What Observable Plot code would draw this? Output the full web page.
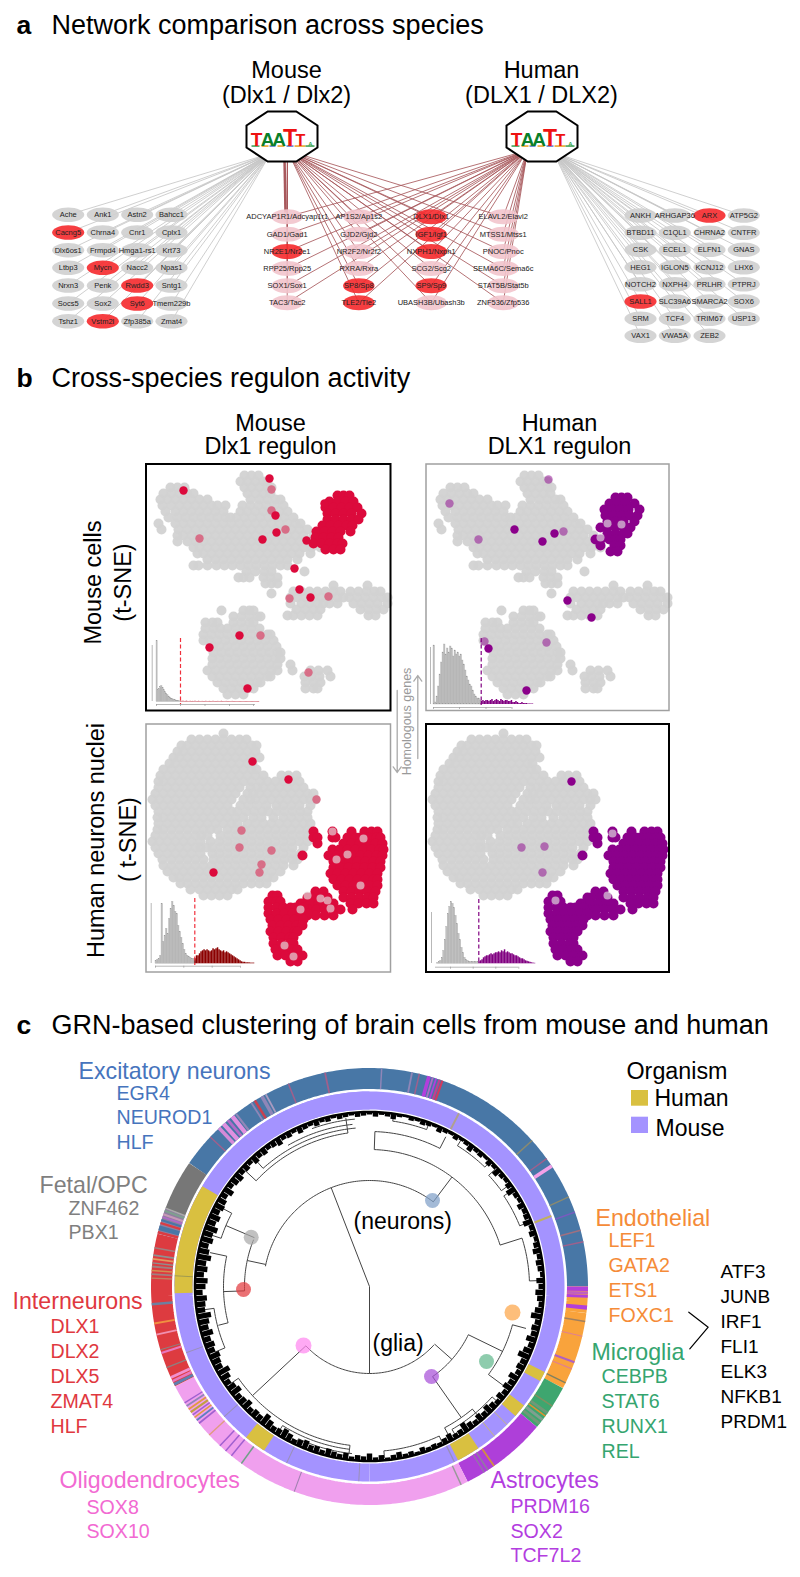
<!DOCTYPE html>
<html><head><meta charset="utf-8">
<style>html,body{margin:0;padding:0;background:#fff}svg{display:block}</style>
<script src="https://cdn.jsdelivr.net/npm/d3@7"></script>
<script src="https://cdn.jsdelivr.net/npm/@observablehq/plot@0.6"></script>
</head><body><div id="chart"></div>
<script>
const FONT="Liberation Sans";
const leftGenes=[["Ache","Cacng5","Dlx6os1","Ltbp3","Nrxn3","Socs5","Tshz1"],["Ank1","Chrna4","Frmpd4","Mycn","Penk","Sox2","Vstm2l"],["Astn2","Cnr1","Hmga1-rs1","Nacc2","Rwdd3","Syt6","Zfp385a"],["Bahcc1","Cplx1","Krt73","Npas1","Sntg1","Tmem229b","Zmat4"]];
const leftX=[67.7,102.3,136.7,171];
const leftY=[214.3,232,249.7,267.3,285,303,320.7];
const sharedGenes=[["ADCYAP1R1/Adcyap1r1","GAD1/Gad1","NR2E1/Nr2e1","RPP25/Rpp25","SOX1/Sox1","TAC3/Tac2"],["AP1S2/Ap1s2","GJD2/Gjd2","NR2F2/Nr2f2","RXRA/Rxra","SP8/Sp8","TLE2/Tle2"],["DLX1/Dlx1","IGF1/Igf1","NXPH1/Nxph1","SCG2/Scg2","SP9/Sp9","UBASH3B/Ubash3b"],["ELAVL2/Elavl2","MTSS1/Mtss1","PNOC/Pnoc","SEMA6C/Sema6c","STAT5B/Stat5b","ZNF536/Zfp536"]];
const sharedX=[286.7,358.3,430.7,502.7];
const sharedY=[216.3,233.7,251,268,285.3,302.3];
const rightGenes=[["ANKH","BTBD11","CSK","HEG1","NOTCH2","SALL1","SRM","VAX1"],["ARHGAP36","C1QL1","ECEL1","IGLON5","NXPH4","SLC39A6","TCF4","VWA5A"],["ARX","CHRNA2","ELFN1","KCNJ12","PRLHR","SMARCA2","TRIM67","ZEB2"],["ATP5G2","CNTFR","GNAS","LHX6","PTPRJ","SOX6","USP13"]];
const rightX=[640,674.3,709,743.3];
const rightY=[215,232.3,249.3,266.7,283.7,301,318.3,335.3];
const redGenes=["Cacng5","Mycn","Rwdd3","Syt6","Vstm2l","NR2E1/Nr2e1","SP8/Sp8","TLE2/Tle2","DLX1/Dlx1","IGF1/Igf1","NXPH1/Nxph1","SP9/Sp9","ARX","SALL1"];
const hubs=[{x:281.5,y:136},{x:541.5,y:136}];
const edgeOrigins={mouseGrey:[270,153],mouseRed:[287,150],humanRed:[527,150],humanGrey:[553,152]};
const logoLetters=[[-25.5,"T","#ee1111",19],[-14.5,"A","#0a7f2a",19],[-3,"A","#0a7f2a",19],[8,"T","#ee1111",23],[18.5,"T","#ee1111",16],[28.5,"A","#2f9f4a",6]];
const logoBits=[[-30,-22,"#3a9f50"],[-20,-13,"#e8a020"],[-12,-6,"#5577cc"],[-4,3,"#e8a020"],[5,12,"#5577cc"],[13,24,"#e8a020"],[24,33,"#3a9f50"]];
</script>
<script>
const mouseCells=[[11,98,105,112],[17,94,101,109,117,121],[23,24,31,38,98,105,113,121,125],[29,17,25,33,41,47,101,109,117,124],[35,14,21,29,37,45,53,61,104,113,121,129,134],[41,16,25,33,41,49,57,65,71,79,96,104,112,120,128,137],[47,19,29,37,45,53,61,69,77,94,101,109,117,125,133,141],[53,22,31,39,47,55,63,71,79,84,90,98,106,114,122,130,138,147],[59,12,29,37,45,53,61,69,77,85,93,101,109,117,125,133,141,149,154],[65,15,32,41,49,57,65,73,81,89,97,105,113,121,129,137,145,153,161],[71,31,37,45,53,61,69,77,85,93,101,109,117,125,133,141,149,157,167],[77,31,41,49,57,65,73,81,89,97,105,113,121,129,137,145,153,161,169,174],[83,47,53,61,69,77,85,93,101,109,117,125,133,141,149,157,165,174],[89,51,57,65,73,81,89,97,105,113,121,129,137,145,153,164],[95,61,69,77,85,93,101,109,117,125,133,141,151],[101,47,52,61,70,78,86,94,102,110,118,126,134,141],[107,100,109,118,125,158],[113,92,97,103,117,124,131],[119,119,125,131],[129,125],[121,187,221],[127,147,155,163,171,179,187,194,204,212,220,228,234],[133,144,151,159,167,175,183,191,197,203,211,219,227,235,241],[139,144,155,163,171,177,183,191,207,215,223,231,241],[145,150,159,167,174,214,222,230,237],[151,141,147,155,163,171,222,229],[146,75,97,103,107],[152,87,95,103,111,114],[158,59,66,71,87,95,103,107],[164,59,67,74,81,89,97,105,113],[170,57,65,73,81,89,97,105,113,121,124],[176,57,63,71,79,87,95,103,111,119,127],[182,67,73,81,89,97,105,113,121,130],[188,67,75,83,91,99,107,115,123,131,134],[194,66,73,81,89,97,105,113,121,129,134],[200,66,75,83,91,99,107,115,123,131,144],[206,61,69,77,85,93,101,109,117,125,131,146,164,172,181],[212,66,73,81,89,97,105,113,121,124,158,165,173,184],[218,71,79,87,95,103,111,114,159,167,174],[224,77,85,93,101,107,159,167,171],[230,81,89,97]];
const mouseClusterDlx=[[31,191,197,203],[37,183,191,199,207],[43,179,187,195,203,211],[49,181,189,197,205,215],[55,181,189,197,205,212],[61,176,184,192,200,206],[67,170,178,186,194,204],[73,169,177,185,192],[79,167,175,183,191,196],[85,179,187,194]];
const mouseClusterHuman=[[33,189,195,201],[39,183,191,199,208],[45,178,186,194,202,213],[51,179,187,195,203,211],[57,181,189,197,208],[63,174,181,189,197,204],[69,181,189,197,201],[75,169,174,183,189,194],[81,174,188,194],[87,184,191]];
const mouseHitsDlx=[[123,14],[37,26],[129,51],[130,68],[116,75],[160,76],[178,39],[148,104],[153,125],[164,133],[93,171],[63,183],[101,224]];
const mouseFaintDlx=[[125,25],[125,46],[139,65],[53,74],[143,134],[182,132],[114,171],[162,208]];
const mouseHitsHuman=[[88,65],[116,77],[128,69],[141,136],[165,153],[62,184],[100,226]];
const mouseFaintHuman=[[122,15],[23,39],[52,75],[137,67],[58,177],[120,178]];
const mouseGreyInHuman=[[195,60],[181,59],[174,73]];
const humanNuclei=[[9,77],[15,45,53,61,69,77,85,93,100],[21,35,41,49,57,65,73,81,89,97,105,110],[27,31,37,45,53,61,69,77,85,93,101,109],[33,27,33,41,49,57,65,73,81,89,97,105,113],[39,23,29,37,45,53,61,69,77,85,93,101,106],[45,17,25,33,41,49,57,65,73,81,89,97,105,110],[51,14,21,29,37,45,53,61,69,77,85,93,101,109,117,135,142,150],[57,12,17,25,33,41,49,57,65,73,81,89,97,105,114,121,129,137,145,153],[63,12,21,29,37,45,53,61,69,77,85,93,104,111,117,125,133,141,149,157],[69,9,17,25,33,41,49,57,65,73,81,89,101,107,113,121,129,137,145,153,161,167],[75,6,13,21,29,37,45,53,61,69,77,85,97,104,109,117,125,133,141,149,157,164,169],[81,9,17,25,33,41,49,57,65,73,81,94,102,111,120,130,137,145,153,164],[87,12,21,29,37,45,53,61,69,77,85,91,100,108,116,122,130,138,146,154,161],[93,11,17,25,33,41,49,57,65,73,81,89,97,107,115,127,137,145,153,161],[99,12,21,29,37,45,53,61,69,77,85,91,101,109,117,125,133,141,149,157,164],[105,11,17,25,33,41,49,57,64,71,81,89,97,105,113,121,129,137,145,153,161],[111,9,17,25,33,41,49,55,61,74,82,90,98,106,114,122,130,138,146,154,161,167],[117,6,13,21,29,37,45,54,64,73,81,89,97,105,113,121,129,137,145,153,161],[123,9,17,25,33,41,49,54,60,66,74,82,90,98,106,114,122,130,138,146,157],[129,12,21,29,37,45,54,66,73,81,89,97,105,113,121,129,137,145,154],[135,16,25,33,41,49,57,67,74,82,90,98,106,114,122,130,138,146,151],[141,17,25,33,41,49,57,65,73,81,89,97,105,113,121,129,137,147],[147,21,29,37,45,53,61,69,77,85,93,101,109,117,125,134],[153,27,33,41,49,57,65,73,81,89,97,105,113,121,127],[159,34,41,49,57,65,73,81,89,97,105,113,120],[165,44,53,61,69,77,85,91],[171,57,65,73,81]];
const humanCluster=[[107,167,186,205,218,225,231],[113,167,171,186,189,201,209,214,222,230,234],[119,171,197,205,213,221,229,236],[125,186,193,201,209,217,225,233,237],[131,156,182,190,198,206,214,222,230,236],[137,187,195,203,211,219,227,234],[143,187,194,202,210,218,226,234],[149,184,191,199,207,215,223,231],[155,187,195,203,211,219,227,231],[161,191,199,207,215,223,231],[167,169,177,197,205,213,221,229],[173,161,165,174,181,197,205,213,221,227],[179,154,157,164,172,180,187,204,212,220,227],[185,206,154,162,170,178,186,194],[191,161,169,178,187],[171,126,131],[177,122,130,134],[183,122,130,137,144,149,157],[189,122,130,138,146,154,161],[195,124,132,140,148,157],[201,126,134,142,150,156],[207,124,132,140,148,151],[213,127,135,143,147],[219,127,135,143,147],[225,129,137,145,151],[231,131,139,147,156],[237,144,151]];
const humanHitsDlx=[[106,37],[142,55],[67,148]];
const humanFaintDlx=[[95,106],[93,123],[125,126],[115,140],[113,148],[170,75]];
const humanPaleInDlx=[[217,114],[201,130],[190,135],[214,161],[174,174],[181,176],[154,185],[184,184],[161,171],[138,221],[147,232],[186,107]];
const humanHitsHuman=[[145,57]];
const humanFaintHuman=[[95,123],[116,148],[118,122]];
const humanPaleInHuman=[[181,171],[129,176],[186,109]];
const frames=[{x:146,y:464,w:244.5,h:246.5,key:true},{x:426,y:464,w:243,h:246.5,key:false},{x:146,y:724,w:244.5,h:248,key:false},{x:426,y:724,w:243,h:248,key:true}];
</script>
<script>
const hists=[
 {x0:156,w:1.2,base:701.5,grey:[61,12,13,15,16,14,12,10,8.5,7,5.5,4.5,3.5,3,2.5,2,1.5,1,1,.7],on:[.8,.6,.8,.5,.6,.8,.5,.5,.7,.5,.6,.5,.8,.5,.5,.7,.5,.5,.6,.5,.5,.7,.5,.5,.6,.5,.5,.7,.5,.5,.5,.6,.5,.5,.7,.5,.5,.5,.6,.5,.5,.5,.5,.6,.5,.5,.5,.5,.5,.5,.5,.5,.5,.5,.5,.5,.5,.5,.5,.5,.5,.5,.5,.5,.5,.5],onColor:"#c03040",cut:[180,638,704],cutColor:"#f0303c",axisX:[156,255,704],ticksX:[156,180,204.5,229,253],axisY:[151.7,645,701]},
 {x0:433,w:1.5,base:704,grey:[59,2,8,18,30,42,52,60,50,56,52,58,56,48,54,50,52,48,50,44,40,34,28,24,20,18,14,10,8,6,6,4],on:[3,4,3,4,4,3,4,5,3,4,5,4,3,5,4,3,4,4,3,3,4,2,2,3,2,1,1,2,1,1,1,.5,.5,.5,.5],onColor:"#800080",cut:[480.7,638,705],cutColor:"#800080",axisX:[433,511.5,707],ticksX:[433,459,485.5,511.5],axisY:[430,647,704]},
 {x0:155,w:1.5,base:963.3,grey:[3,4,5,8,60,22,28,35,30,45,55,62,58,52,50,38,32,26,20,14,10,8,7,6,5,5,5],on:[5,8,8,10,12,13,14,13,14,13,12,13,15,14,15,16,14,13,12,13,11,12,11,10,9,8,7,6,5,4,3,2,1.5,1.5,1,1,1,.7,.7,.7],onColor:"#8b0000",cut:[194.3,898,965],cutColor:"#f0303c",axisX:[155,240,965.7],ticksX:[155,183.3,211.7,240],axisY:[150.7,903,963]},
 {x0:436.7,w:1.5,base:963.3,grey:[1,2,3,6,13,24,37,50,57,62,60,56,48,40,30,24,16,11,6,4,3,2,2,2,2,2,2,2],on:[2,3,4,6,7,8,8,9,10,9,10,11,11,12,11,13,12,14,11,12,11,10,10,9,8,8,7,6,5,5,4,3,2.5,2,1.5,1,.7,.5],onColor:"#800080",cut:[478.3,899,963],cutColor:"#800080",axisX:[435,518.3,966.7],ticksX:[450,472.7,495.3,518.3],axisY:[431,912,963]}
];
const homologyArrows=[{x1:396.7,y1:690,x2:396.7,y2:772},{x1:417.3,y1:758,x2:417.3,y2:675}];
</script>
<script>
const ringCentre={x:369,y:1286};
const outerBase=[[-55.6,90,"#4877a6"],[90,97,"#f9a33c"],[97,117.7,"#f9a33c"],[117.7,130,"#3ea66f"],[130,153.3,"#ae3fd9"],[153.3,242.8,"#f0a0ee"],[242.8,284,"#dd3b40"],[284,291,"#8f7f9f"],[291,304.4,"#777777"]];
const outerStripes=[[348,.5,"#a0608c"],[3,.4,"#8f86b8"],[11,.5,"#8f86b8"],[13,.4,"#a0608c"],[15.3,1,"#b23fdc"],[16.6,.5,"#b06ac8"],[17.5,.5,"#b23fdc"],[18.4,.6,"#c04090"],[19.2,.6,"#d03a60"],[338,.4,"#a0608c"],[330,1,"#8f86b8"],[331.4,.5,"#a89ac0"],[328,.7,"#c84050"],[327,.5,"#8f86b8"],[316,1,"#d58ad8"],[317.5,1.2,"#e090e0"],[319.2,.8,"#b06ac8"],[320.5,1.2,"#e090e0"],[322,.6,"#8f86b8"],[313,.4,"#a0608c"],[47.9,.4,"#8a8a70"],[54,.4,"#a0608c"],[56,1,"#f4a0e8"],[65.6,.4,"#8a8a70"],[69.9,.4,"#7a5ac0"],[74.9,.4,"#a07080"],[78,.4,"#a0608c"],
[90,1.2,"#b23fdc"],[91.3,.8,"#c060c0"],[92.2,.8,"#b23fdc"],[95,1.1,"#b23fdc"],[99,.4,"#a08060"],[103,.3,"#e08090"],[110,.6,"#b060c0"],[112,.3,"#e08090"],[116,.4,"#808060"],
[123,.4,"#809060"],[125,.8,"#709878"],[126.2,.4,"#e09030"],[127.2,.8,"#7f9f8f"],[128.5,.8,"#709878"],[145,.5,"#d09040"],[147,.4,"#8f7f9f"],[148.2,.3,"#8f7f9f"],[155,.4,"#999999"],[200,.3,"#a080b0"],[215.7,.4,"#70a088"],[219,.4,"#a060d0"],[221,.4,"#a060d0"],[223,.4,"#a060d0"],[227,.4,"#e09a80"],
[231,.5,"#a060d0"],[232,.5,"#5f7fc0"],[233,.4,"#e09a40"],[233.8,.4,"#a060d0"],[234.6,.6,"#c0a040"],[235.6,.5,"#e09a40"],[236.6,.5,"#8f86b8"],[237.6,.4,"#a060d0"],
[243,.8,"#5f7fb0"],[244,.7,"#e878c0"],[245,.8,"#f090d0"],[248,.4,"#8f7f7f"],[252,.6,"#e878c0"],[253,.3,"#8f7f7f"],[257,.5,"#f090b0"],[260,.5,"#f09040"],[265,.7,"#6f7f9f"],[272,.4,"#c08060"],[273,.5,"#a08080"],[274,.4,"#d09050"],[275,.5,"#a08080"],[276,.4,"#8f8f8f"],[277,.5,"#e09a60"],[278,.5,"#909090"],[280,.4,"#a08080"],
[284,.7,"#dd3b40"],[285,1.2,"#4877a6"],[286.6,.6,"#dd3b40"],[287.4,.6,"#4877a6"],[288.3,.5,"#b06ac8"],[289,.6,"#c898b8"],[290,.6,"#7f9f8f"],[290.8,.4,"#aaaaaa"]];
const innerBase=[[-90,180,"#a493ff"],[180,360,"#a493ff"]];
const innerHuman=[[268,301],[212.7,219.3],[146,153],[127.6,131.6],[116,119]];
const innerThin=[[27,.6,"#b0a090"],[68.5,.6,"#c0b060"],[183,.3,"#9a90b8"],[205,.3,"#9a90b8"],[154,.4,"#9a90b8"],[135,.3,"#c0b090"],[140,.3,"#c0b090"],[273,.3,"#a09a50"],[250,.3,"#9a90b8"],[228,.3,"#9a90b8"]];
const treeArcs=[[87,132,227],[106,-79,37],[125,268,292],[137,2,72.4],[156,288,298],[146,255.6,282],[157,247,262],[160,187,235],[110,116,145],[148,105,126.5],[155,-47,-8],[159,-42,-5],[163,-30,-6],[155,2,27],[163,47,54],[162,56,68],[160,72.4,88],[164,187,212],[168,186,205],[165,155,175],[160,140,152],[165,132,150],[168,-20,-5],[167,8,20],[166,32,44]];
const treeSpokes=[[180,0,87],[-21.2,0,106],[282,106,125],[37,106,137],[2,137,155],[27,155,168],[72.4,137,160],[293,125,156],[288,156,170],[298,156,170],[268,125,146],[282,146,163],[255.6,146,156],[247,157,168],[262,157,168],[227,87,160],[187,160,168],[235,160,170],[131.5,87,110],[145,110,160],[116,110,148],[105,148,162],[126.5,148,166],[-47,155,170],[-8,155,170],[-42,159,172],[47,163,172],[54,163,172],[56,162,172],[68,162,172],[88,160,170],[212,164,172],[205,168,173],[155,165,172],[175,165,172],[140,160,170],[152,160,172],[132,165,172],[150,165,172],[8,167,173],[20,167,173],[32,166,173],[44,166,173]];
const tipDepth=[3,5,3,4,6,3,2,4,3,5,4,3,6,4,3,5,3,4,7,4,
5,3,6,4,8,5,4,6,9,5,4,7,5,6,9,5,7,4,6,8,5,7,6,4,8,
6,9,7,5,8,11,6,8,7,10,6,9,12,7,8,6,10,7,9,6,
8,5,7,9,6,8,5,7,10,6,5,8,6,4,5,
4,6,3,5,4,7,5,3,6,4,8,5,6,4,7,5,6,8,5,7,
6,9,7,5,8,10,7,6,9,12,7,8,6,10,8,7,11,9,7,10,13,8,9,11,8,
10,8,12,9,11,14,9,10,12,8,11,13,9,12,10,14,11,9,12,10,13,9,11,8,10,
9,7,10,6,8,9,6,7,5,8,6,7,5,6,8,5,6,4,7,5,4,6,4,5,3,5,4,3,5,4];
const cladeDots=[{x:432,y:1200,c:"#7f9fc8",r:7.5},{x:250.7,y:1236.7,c:"#a9a9a9",r:7.5},{x:243,y:1289,c:"#e23a3f",r:7.5},{x:303,y:1345,c:"#ff88f0",r:8},{x:431,y:1376,c:"#a850d8",r:7.5},{x:486,y:1361,c:"#63b88e",r:7.5},{x:512,y:1312,c:"#fca548",r:8}];
const bracket=[{x:688.3,y:1311.7},{x:707.7,y:1326.7},{x:689.3,y:1348.3}];
const legendSwatches=[{x1:631,x2:648,y1:1090,y2:1105.7,c:"#d9c040"},{x1:631,x2:648,y1:1116.7,y2:1133,c:"#a493ff"}];
</script>
<script>
const BLUE="#4674bd",GREY="#7f7f7f",RED="#e0383f",PINK="#f26ad2",PURP="#b33ddf",GRN="#35a56f",ORNG="#f58b38";
const T=27,G=23.2,S=19.6,K=19;
const startLabels=[["Network comparison across species",51,33,T,"#000"],["Cross-species regulon activity",51,386,T,"#000"],["GRN-based clustering of brain cells from mouse and human",51,1033,T,"#000"],
["Excitatory neurons",78,1078,G,BLUE],["EGR4",116,1099,S,BLUE],["NEUROD1",116,1123,S,BLUE],["HLF",116,1148,S,BLUE],
["Fetal/OPC",39,1192,G,GREY],["ZNF462",68,1214,S,GREY],["PBX1",68,1238,S,GREY],
["Interneurons",12,1308,G,RED],["DLX1",50,1332,S,RED],["DLX2",50,1357,S,RED],["DLX5",50,1382,S,RED],["ZMAT4",50,1407,S,RED],["HLF",50,1432,S,RED],
["Oligodendrocytes",59,1487,G,PINK],["SOX8",86,1513,S,PINK],["SOX10",86,1537,S,PINK],
["Astrocytes",490,1487,G,PURP],["PRDM16",510,1512,S,PURP],["SOX2",510,1537,S,PURP],["TCF7L2",510,1561,S,PURP],
["Endothelial",595,1225,G,ORNG],["LEF1",608,1246,S,ORNG],["GATA2",608,1271,S,ORNG],["ETS1",608,1296,S,ORNG],["FOXC1",608,1321,S,ORNG],
["Microglia",591,1359,G,GRN],["CEBPB",601,1382,S,GRN],["STAT6",601,1407,S,GRN],["RUNX1",601,1432,S,GRN],["REL",601,1457,S,GRN],
["ATF3",720,1277,K,"#000"],["JUNB",720,1302,K,"#000"],["IRF1",720,1327,K,"#000"],["FLI1",720,1352,K,"#000"],["ELK3",720,1377,K,"#000"],["NFKB1",720,1402,K,"#000"],["PRDM1",720,1427,K,"#000"],
["Organism",626,1078,23.3,"#000"],["Human",654,1105,23,"#000"],["Mouse",655,1135,23,"#000"],
["(neurons)",353,1228,23,"#000"],["(glia)",372,1350,23,"#000"]];
const boldLabels=[["a",16,33],["b",16,386],["c",16,1033]];
const centreLabels=[["Mouse",286,77],["(Dlx1 / Dlx2)",286,102],["Human",541,77],["(DLX1 / DLX2)",541,102],["Mouse",270,430],["Dlx1 regulon",270,453],["Human",559,430],["DLX1 regulon",559,453]];
const sideLabels=[["Mouse cells",100.7,582],["(t-SNE)",130,582],["Human neurons nuclei",103,840],["( t-SNE)",135,839]];
</script>
<script>
const rad=a=>a*Math.PI/180;
const polar=(a,r)=>({x:ringCentre.x+r*Math.sin(rad(a)),y:ringCentre.y-r*Math.cos(rad(a))});
function arc(id,a0,a1,r,c,extra={}){const n=Math.max(1,Math.ceil(Math.abs(a1-a0)));const o=[];for(let i=0;i<=n;i++){o.push({id,c,...extra,...polar(a0+(a1-a0)*i/n,r)})}return o}
const expand=(rows,ox,oy)=>rows.flatMap(([y,...xs])=>xs.map(x=>({x:x+ox,y:y+oy})));
const shift=(pts,ox,oy)=>pts.map(([x,y])=>({x:x+ox,y:y+oy}));
const ellipse=k=>({draw(ctx,size){const r=Math.sqrt(size/Math.PI),a=r*k,b=r,m=.5523;ctx.moveTo(a,0);ctx.bezierCurveTo(a,m*b,m*a,b,0,b);ctx.bezierCurveTo(-m*a,b,-a,m*b,-a,0);ctx.bezierCurveTo(-a,-m*b,-m*a,-b,0,-b);ctx.bezierCurveTo(m*a,-b,a,-m*b,a,0);ctx.closePath()}});
const octagon={draw(ctx,size){const r=Math.sqrt(size/Math.PI),w=1.42*r,t=.57*r,s=.44*r;const p=[[-t,-r],[t,-r],[w,-s],[w,s],[t,r],[-t,r],[-w,s],[-w,-s]];p.forEach(([x,y],i)=>i?ctx.lineTo(x,y):ctx.moveTo(x,y));ctx.closePath()}};
const nodesOf=(genes,xs,ys,base)=>genes.flatMap((col,i)=>col.map((g,j)=>({g,x:xs[i],y:ys[j],fill:redGenes.includes(g)?"#f5292c":base})));
const leftNodes=nodesOf(leftGenes,leftX,leftY,"#cfcfcf"),sharedNodes=nodesOf(sharedGenes,sharedX,sharedY,"#f2c4cc"),rightNodes=nodesOf(rightGenes,rightX,rightY,"#cfcfcf");
const edges=(nodes,o)=>nodes.map(n=>({x1:o[0],y1:o[1],x2:n.x,y2:n.y}));
const marks=[];
</script>
<script>
for(const [nodes,o,col] of [[leftNodes,edgeOrigins.mouseGrey,"#c6c6c6"],[rightNodes,edgeOrigins.humanGrey,"#c6c6c6"],[sharedNodes,edgeOrigins.mouseRed,"#a8585c"],[sharedNodes,edgeOrigins.humanRed,"#a8585c"]]){
  marks.push(Plot.link(edges(nodes,o),{x1:"x1",y1:"y1",x2:"x2",y2:"y2",stroke:col,strokeWidth:.85}));
}
marks.push(Plot.link([{x1:284,y1:158,x2:285,y2:212}],{x1:"x1",y1:"y1",x2:"x2",y2:"y2",stroke:"#a8585c",strokeWidth:2.5}));
marks.push(Plot.dot([...leftNodes,...rightNodes],{x:"x",y:"y",r:7.3,symbol:ellipse(2.2),fill:"fill",fillOpacity:.9}));
marks.push(Plot.dot(sharedNodes,{x:"x",y:"y",r:7.5,symbol:ellipse(2.1),fill:"fill",fillOpacity:.9}));
marks.push(Plot.text([...leftNodes,...sharedNodes,...rightNodes],{x:"x",y:"y",text:"g",fontSize:7.5,fontFamily:FONT,fill:"#222"}));
marks.push(Plot.dot(hubs,{x:"x",y:"y",r:25,symbol:octagon,fill:"#fff",stroke:"#000",strokeWidth:2}));
for(const h of hubs){
  marks.push(Plot.rect(logoBits,{x1:d=>h.x+d[0],x2:d=>h.x+d[1],y1:145.3,y2:146.8,fill:d=>d[2]}));
  marks.push(Plot.text(logoLetters,{x:d=>h.x+d[0],y:145.5,text:d=>d[1],fill:d=>d[2],fontSize:d=>d[3],fontWeight:"bold",fontFamily:FONT,lineAnchor:"bottom"}));
}
</script>
<script>
function addPanel(fr,grey,cluster,hits,faint,color,pale){
  marks.push(Plot.dot(expand(grey,fr.x,fr.y),{x:"x",y:"y",r:5,fill:"#d2d2d2",fillOpacity:.95}));
  marks.push(Plot.dot(expand(cluster,fr.x,fr.y),{x:"x",y:"y",r:5,fill:color}));
  marks.push(Plot.dot(shift(hits,fr.x,fr.y),{x:"x",y:"y",r:4.2,fill:color}));
  marks.push(Plot.dot(shift(faint,fr.x,fr.y),{x:"x",y:"y",r:4.2,fill:color,fillOpacity:.5}));
  marks.push(Plot.dot(shift(pale,fr.x,fr.y),{x:"x",y:"y",r:4,fill:"#e4e4e4",fillOpacity:.65}));
}
addPanel(frames[0],mouseCells,mouseClusterDlx,mouseHitsDlx,mouseFaintDlx,"#dc0a3c",[]);
addPanel(frames[1],mouseCells,mouseClusterHuman,mouseHitsHuman,mouseFaintHuman,"#8b008b",mouseGreyInHuman);
addPanel(frames[2],humanNuclei,humanCluster,humanHitsDlx,humanFaintDlx,"#dc0a3c",humanPaleInDlx);
addPanel(frames[3],humanNuclei,humanCluster,humanHitsHuman,humanFaintHuman,"#8b008b",humanPaleInHuman);
</script>
<script>
for(const h of hists){
  const g=h.grey.map((v,i)=>({i,v})), n=h.on.map((v,i)=>({i,v}));
  marks.push(Plot.rect(g,{x1:d=>h.x0+d.i*h.w,x2:d=>h.x0+(d.i+1)*h.w,y1:h.base,y2:d=>h.base-d.v,fill:"#c0c0c0",stroke:"#999",strokeWidth:.25}));
  marks.push(Plot.rect(n,{x1:d=>h.cut[0]+d.i*h.w,x2:d=>h.cut[0]+(d.i+1)*h.w,y1:h.base,y2:d=>h.base-d.v,fill:h.onColor}));
  marks.push(Plot.ruleX([h.cut[0]],{x:d=>d,y1:h.cut[1],y2:h.cut[2],stroke:h.cutColor,strokeWidth:1.2,strokeDasharray:"4,2.5"}));
  marks.push(Plot.ruleY([h.axisX[2]],{y:d=>d,x1:h.axisX[0],x2:h.axisX[1],stroke:"#999",strokeWidth:.7}));
  marks.push(Plot.ruleX(h.ticksX,{x:d=>d,y1:h.axisX[2],y2:h.axisX[2]+2,stroke:"#999",strokeWidth:.7}));
  marks.push(Plot.ruleX([h.axisY[0]],{x:d=>d,y1:h.axisY[1],y2:h.axisY[2],stroke:"#999",strokeWidth:.7}));
}
marks.push(Plot.rect(frames,{x1:"x",x2:d=>d.x+d.w,y1:"y",y2:d=>d.y+d.h,fill:"none",stroke:d=>d.key?"#000":"#a0a0a0",strokeWidth:d=>d.key?2:1.5}));
marks.push(Plot.arrow(homologyArrows,{x1:"x1",y1:"y1",x2:"x2",y2:"y2",stroke:"#aaa",strokeWidth:1.3,headLength:8,headAngle:70,bend:0}));
marks.push(Plot.text(["Homologous genes"],{x:406.7,y:721,text:d=>d,rotate:-90,fontSize:12.5,fill:"#999",fontFamily:FONT}));
</script>
<script>
const outerData=[...outerBase.flatMap((s,i)=>arc("b"+i,s[0],s[1],208,s[2])),...outerStripes.flatMap((s,i)=>arc("s"+i,s[0],s[0]+s[1],208,s[2]))];
const innerData=[...innerBase.flatMap((s,i)=>arc("b"+i,s[0],s[1],186,s[2])),...innerHuman.flatMap((s,i)=>arc("h"+i,s[0],s[1],186,"#d9c040")),...innerThin.flatMap((s,i)=>arc("t"+i,s[0],s[0]+s[1],186,s[2]))];
const bandRing=arc("r",0,360,174.5,"#000");
const arcData=treeArcs.flatMap((s,i)=>arc("a"+i,s[1],s[2],s[0],"#444"));
const spokeData=treeSpokes.map(s=>{const p=polar(s[0],s[1]),q=polar(s[0],s[2]);return{x1:p.x,y1:p.y,x2:q.x,y2:q.y}});
const tipData=tipDepth.map((dep,i)=>{const p=polar(i*2,175),q=polar(i*2,175-dep);return{x1:p.x,y1:p.y,x2:q.x,y2:q.y}});
marks.push(Plot.line(outerData,{x:"x",y:"y",z:"id",stroke:"c",strokeWidth:21,strokeLinecap:"butt",strokeLinejoin:"miter"}));
marks.push(Plot.line(innerData,{x:"x",y:"y",z:"id",stroke:"c",strokeWidth:18,strokeLinecap:"butt",strokeLinejoin:"miter"}));
marks.push(Plot.line(arcData,{x:"x",y:"y",z:"id",stroke:"#444",strokeWidth:1,strokeLinecap:"butt"}));
marks.push(Plot.link(spokeData,{x1:"x1",y1:"y1",x2:"x2",y2:"y2",stroke:"#444",strokeWidth:1}));
marks.push(Plot.line(bandRing,{x:"x",y:"y",stroke:"#000",strokeWidth:2.5}));
marks.push(Plot.link(tipData,{x1:"x1",y1:"y1",x2:"x2",y2:"y2",stroke:"#000",strokeWidth:5.4,strokeLinecap:"butt"}));
marks.push(Plot.dot(cladeDots,{x:"x",y:"y",r:d=>d.r,fill:"c",fillOpacity:.72}));
marks.push(Plot.line(bracket,{x:"x",y:"y",stroke:"#000",strokeWidth:1.2}));
marks.push(Plot.rect(legendSwatches,{x1:"x1",x2:"x2",y1:"y1",y2:"y2",fill:"c"}));
</script>
<script>
const textMark=(list,anchor,opts)=>Plot.text(list,{x:d=>d[1],y:d=>d[2],text:d=>d[0],textAnchor:anchor,lineAnchor:"bottom",fontFamily:FONT,...opts});
marks.push(textMark(startLabels,"start",{fontSize:d=>d[3],fill:d=>d[4]}));
marks.push(textMark(boldLabels,"start",{fontSize:26.5,fontWeight:"bold",fill:"#000"}));
marks.push(textMark(centreLabels,"middle",{fontSize:23.5,fill:"#000"}));
marks.push(textMark(sideLabels,"middle",{fontSize:23.5,fill:"#000",rotate:-90}));
</script>
<script>
const chart=Plot.plot({width:800,height:1577,margin:0,
 x:{domain:[0,800],range:[0,800],axis:null},
 y:{domain:[0,1577],range:[0,1577],axis:null},
 r:{type:"identity"},
 color:{type:"identity"},
 style:{background:"#fff",fontFamily:FONT},
 marks});
document.getElementById("chart").append(chart);
</script>
</body></html>
